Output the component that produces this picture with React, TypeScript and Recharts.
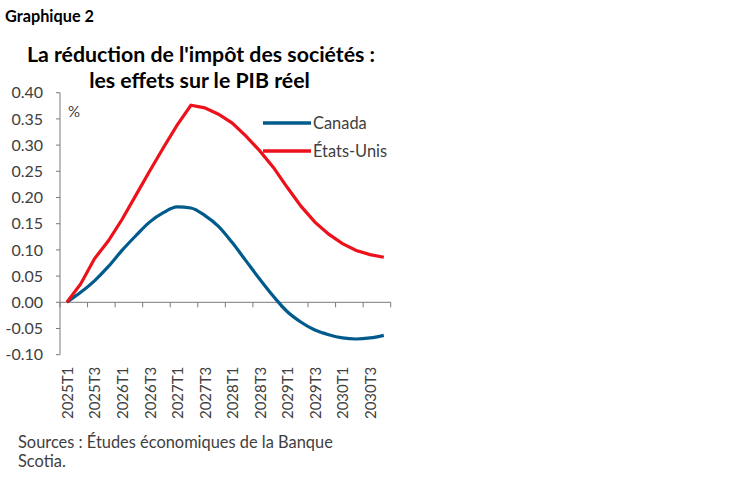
import React from 'react';
import { LineChart, Line, XAxis, YAxis, ReferenceLine, Legend } from 'recharts';

const quarters = [
  '2025T1', '2025T2', '2025T3', '2025T4',
  '2026T1', '2026T2', '2026T3', '2026T4',
  '2027T1', '2027T2', '2027T3', '2027T4',
  '2028T1', '2028T2', '2028T3', '2028T4',
  '2029T1', '2029T2', '2029T3', '2029T4',
  '2030T1', '2030T2', '2030T3', '2030T4',
];

const canada = [
  0, 0.019, 0.041, 0.068, 0.099, 0.127, 0.153, 0.171,
  0.182, 0.180, 0.166, 0.145, 0.114, 0.079, 0.044, 0.011,
  -0.018, -0.038, -0.053, -0.062, -0.068, -0.070, -0.068, -0.063,
];

const etatsUnis = [
  0, 0.035, 0.083, 0.117, 0.158, 0.204, 0.250, 0.295,
  0.338, 0.376, 0.371, 0.359, 0.342, 0.317, 0.289, 0.257,
  0.219, 0.183, 0.153, 0.130, 0.112, 0.099, 0.091, 0.086,
];

const yTicks = [-0.1, -0.05, 0, 0.05, 0.1, 0.15, 0.2, 0.25, 0.3, 0.35, 0.4];

const data = quarters.map((q, i) => ({ q, canada: canada[i], us: etatsUnis[i] }));

const FONT = 'Lato, "Noto Sans", sans-serif';
const AXIS = '#7a7a7a';
const TEXT = '#404040';

const XTick = (props: any) => {
  const { x, y, payload } = props;
  return (
    <text
      x={x}
      y={y}
      transform={`rotate(-90, ${x}, ${y})`}
      textAnchor="end"
      dominantBaseline="central"
      fontFamily={FONT}
      fontSize={15}
      fill={TEXT}
    >
      {payload.value}
    </text>
  );
};

const ZeroAxis = (props: any) => {
  const { x1, y1, x2 } = props;
  const n = quarters.length / 2;
  const step = (x2 - x1) / n;
  const marks = [];
  for (let k = 0; k <= n; k++) {
    const tx = x1 + k * step;
    marks.push(<line key={k} x1={tx} x2={tx} y1={y1} y2={y1 + 5} stroke={AXIS} strokeWidth={1} />);
  }
  return (
    <g>
      <line x1={x1} x2={x2} y1={y1} y2={y1} stroke={AXIS} strokeWidth={1} />
      {marks}
    </g>
  );
};

const LegendContent = (props: any) => {
  const { payload } = props;
  return (
    <div style={{ fontFamily: FONT }}>
      {(payload || []).map((p: any) => (
        <div key={p.value} style={{ display: 'flex', alignItems: 'center', height: 27.7 }}>
          <svg width={48} height={6} style={{ display: 'block' }}>
            <line x1={0} x2={48} y1={3} y2={3} stroke={p.color} strokeWidth={3.5} />
          </svg>
          <span style={{ marginLeft: 2, fontSize: 16.4, color: TEXT, lineHeight: '16px' }}>{p.value}</span>
        </div>
      ))}
    </div>
  );
};

export default function App() {
  return (
    <div style={{ position: 'absolute', left: 0, top: 0, width: 749, height: 482, background: '#fff' }}>
      <LineChart
        width={749}
        height={482}
        data={data}
        margin={{ top: 92.7, right: 358.3, left: 10, bottom: 57.3 }}
      >
        <XAxis
          dataKey="q"
          scale="band"
          interval={1}
          height={70}
          axisLine={false}
          tickLine={false}
          tickSize={0}
          tickMargin={12}
          tick={<XTick />}
        />
        <YAxis
          width={50}
          domain={[-0.1, 0.4]}
          ticks={yTicks}
          interval={0}
          tickFormatter={(v: number) => v.toFixed(2)}
          axisLine={{ stroke: AXIS, strokeWidth: 1 }}
          tickLine={{ stroke: AXIS, strokeWidth: 1 }}
          tickSize={4}
          tickMargin={13}
          tick={{ fontFamily: FONT, fontSize: 16, fill: TEXT }}
        />
        <ReferenceLine y={0} shape={(p: any) => <ZeroAxis {...p} />} />
        <Legend
          layout="vertical"
          align="center"
          verticalAlign="middle"
          wrapperStyle={{ left: 263, top: 109.5, width: 150 }}
          content={<LegendContent />}
        />
        <Line
          name="Canada"
          dataKey="canada"
          type="monotone"
          stroke="#005A8C"
          strokeWidth={3.2}
          dot={false}
          isAnimationActive={false}
        />
        <Line
          name="États-Unis"
          dataKey="us"
          type="linear"
          stroke="#EC111A"
          strokeWidth={3.2}
          dot={false}
          isAnimationActive={false}
        />
      </LineChart>
      <svg
        width={749}
        height={482}
        style={{ position: 'absolute', left: 0, top: 0, pointerEvents: 'none' }}
      >
        <text x={5} y={21.5} fontFamily={FONT} fontWeight={700} fontSize={16.3} fill="#000">
          Graphique 2
        </text>
        <text x={201} y={62} textAnchor="middle" fontFamily={FONT} fontWeight={700} fontSize={21.3} fill="#000">
          La réduction de l'impôt des sociétés :
        </text>
        <text x={199.5} y={87.5} textAnchor="middle" fontFamily={FONT} fontWeight={700} fontSize={21.3} fill="#000">
          les effets sur le PIB réel
        </text>
        <text x={68} y={117} fontFamily={FONT} fontSize={15} fill={TEXT}>
          %
        </text>
        <text x={18} y={448} fontFamily={FONT} fontSize={16.4} fill={TEXT}>
          Sources : Études économiques de la Banque
        </text>
        <text x={18} y={467} fontFamily={FONT} fontSize={16.4} fill={TEXT}>
          Scotia.
        </text>
      </svg>
    </div>
  );
}
